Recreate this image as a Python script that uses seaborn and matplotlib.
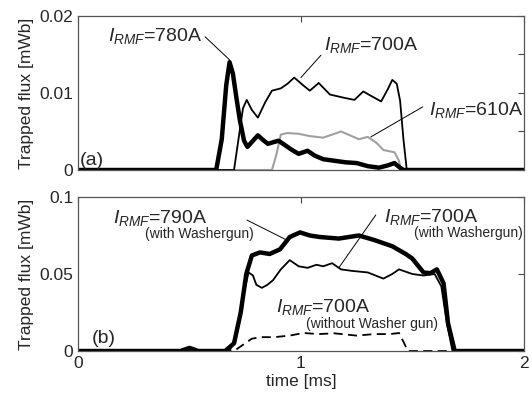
import numpy as np
import matplotlib
matplotlib.use('Agg')
import matplotlib.pyplot as plt
import seaborn as sns

# ─── Data: panel (a) ─────────────────────────────────────────────────────────
t_780 = [0, 0.62, 0.645, 0.665, 0.68, 0.695, 0.71, 0.726, 0.745, 0.76, 0.785,
         0.807, 0.83, 0.852, 0.875, 0.90, 0.93, 0.96, 0.99, 1.03, 1.06, 1.10,
         1.15, 1.20, 1.25, 1.30, 1.35, 1.39, 1.42, 1.44, 1.46, 2.0]
f_780 = [0, 0, 0.004, 0.011, 0.014, 0.0125, 0.0095, 0.0065, 0.0038, 0.003, 0.0038,
         0.0045, 0.0039, 0.0034, 0.0036, 0.0038, 0.0032, 0.0026, 0.0021, 0.0025, 0.0019, 0.0014,
         0.0012, 0.0010, 0.0009, 0.0005, 0.0003, 0.0006, 0.0009, 0.0004, 0, 0]

t_700a = [0, 0.70, 0.72, 0.74, 0.757, 0.78, 0.807, 0.84, 0.87, 0.91, 0.94, 0.97,
          1.01, 1.04, 1.08, 1.13, 1.19, 1.24, 1.28, 1.31, 1.36, 1.39, 1.41, 1.43,
          1.445, 1.46, 1.475, 2.0]
f_700a = [0, 0, 0.004, 0.008, 0.0091, 0.0078, 0.0068, 0.0088, 0.0103, 0.0106, 0.0112, 0.012,
          0.011, 0.0103, 0.0113, 0.0098, 0.0094, 0.0091, 0.0102, 0.0097, 0.0089, 0.0105, 0.0117, 0.0112,
          0.009, 0.004, 0, 0]

t_610 = [0, 0.87, 0.89, 0.91, 0.94, 0.99, 1.04, 1.10, 1.14, 1.18, 1.22, 1.26,
         1.30, 1.34, 1.37, 1.42, 1.44, 1.45, 2.0]
f_610 = [0, 0, 0.002, 0.0046, 0.0048, 0.0047, 0.0044, 0.0042, 0.0046, 0.005, 0.0045, 0.004,
         0.0043, 0.0035, 0.0026, 0.0023, 0.0012, 0, 0]

# ─── Data: panel (b) ─────────────────────────────────────────────────────────
t_790 = [0, 0.46, 0.50, 0.54, 0.66, 0.70, 0.73, 0.755, 0.78, 0.816, 0.86, 0.906,
         0.95, 0.996, 1.04, 1.085, 1.17, 1.26, 1.33, 1.41, 1.47, 1.50, 1.55, 1.58,
         1.61, 1.64, 1.66, 1.69, 2.0]
f_790 = [0, 0, 0.002, 0, 0, 0.005, 0.025, 0.05, 0.062, 0.064, 0.063, 0.066,
         0.074, 0.077, 0.075, 0.074, 0.073, 0.075, 0.072, 0.068, 0.063, 0.060, 0.051, 0.0505,
         0.053, 0.044, 0.018, 0, 0]

t_700w = [0, 0.68, 0.71, 0.74, 0.765, 0.785, 0.80, 0.825, 0.85, 0.875, 0.91, 0.95,
          0.99, 1.03, 1.07, 1.10, 1.14, 1.18, 1.23, 1.30, 1.37, 1.41, 1.44, 1.50,
          1.55, 1.60, 1.63, 1.655, 1.68, 2.0]
f_700w = [0, 0, 0.01, 0.035, 0.051, 0.049, 0.043, 0.041, 0.043, 0.046, 0.053, 0.059,
          0.055, 0.054, 0.056, 0.055, 0.057, 0.053, 0.052, 0.051, 0.047, 0.050, 0.053, 0.050,
          0.049, 0.050, 0.042, 0.018, 0, 0]

t_700n = [0, 0.70, 0.74, 0.78, 0.82, 0.88, 0.95, 1.01, 1.08, 1.15, 1.25, 1.33,
          1.40, 1.44, 1.46, 1.48, 1.70]
f_700n = [0, 0, 0.004, 0.008, 0.009, 0.009, 0.010, 0.0117, 0.011, 0.0115, 0.010, 0.011,
          0.011, 0.0117, 0.006, 0, 0]

# ─── Style ───────────────────────────────────────────────────────────────────
sns.set_style('white')
plt.rcParams['font.family'] = ['Liberation Sans', 'DejaVu Sans']
plt.rcParams['mathtext.fontset'] = 'custom'
plt.rcParams['mathtext.it'] = 'Liberation Sans:italic'
plt.rcParams['mathtext.rm'] = 'Liberation Sans'

fig = plt.figure(figsize=(5.32, 3.96), dpi=100)
ax_a = fig.add_axes([0.1466, 0.5707, 0.838, 0.389])
ax_b = fig.add_axes([0.1466, 0.1136, 0.838, 0.389])

# ─── Panel (a) ───────────────────────────────────────────────────────────────
sns.lineplot(x=t_610, y=f_610, ax=ax_a, color='#a0a0a0', lw=1.5)
sns.lineplot(x=t_700a, y=f_700a, ax=ax_a, color='black', lw=1.3)
sns.lineplot(x=t_780, y=f_780, ax=ax_a, color='black', lw=3.2)

ax_a.set_ylim(0, 0.02)
ax_a.set_yticks([0, 0.005, 0.01, 0.015, 0.02])
ax_a.set_yticklabels(['0', '', '0.01', '', '0.02'])

lab_kw = dict(fontsize=14, va='baseline')
sub_kw = dict(fontsize=10, va='baseline')
ax_a.text(0.135, 0.0167, r'$I_{RMF}$=780A', **lab_kw)
ax_a.plot([0.57, 0.68], [0.0173, 0.0143], color='black', lw=0.7)
ax_a.text(1.103, 0.0156, r'$I_{RMF}$=700A', **lab_kw)
ax_a.plot([1.09, 1.0], [0.0149, 0.012], color='black', lw=0.7)
ax_a.text(1.574, 0.0071, r'$I_{RMF}$=610A', **lab_kw)
ax_a.plot([1.547, 1.314], [0.0082, 0.0043], color='black', lw=0.7)
ax_a.text(0.009, 0.0007, '(a)', **lab_kw)

# ─── Panel (b) ───────────────────────────────────────────────────────────────
sns.lineplot(x=t_700n, y=f_700n, ax=ax_b, color='black', lw=1.3, linestyle=(0, (5, 3)))
sns.lineplot(x=t_700w, y=f_700w, ax=ax_b, color='black', lw=1.3)
sns.lineplot(x=t_790, y=f_790, ax=ax_b, color='black', lw=3.2)

ax_b.set_ylim(0, 0.1)
ax_b.set_yticks([0, 0.05, 0.1])
ax_b.set_yticklabels(['0', '0.05', '0.1'])

ax_b.text(0.157, 0.0831, r'$I_{RMF}$=790A', **lab_kw)
ax_b.text(0.30, 0.0734, '(with Washergun)', **sub_kw)
ax_b.plot([0.758, 0.937], [0.085, 0.072], color='black', lw=0.7)
ax_b.text(1.372, 0.0838, r'$I_{RMF}$=700A', **lab_kw)
ax_b.text(1.507, 0.074, '(with Washergun)', **sub_kw)
ax_b.plot([1.336, 1.17], [0.0883, 0.054], color='black', lw=0.7)
ax_b.text(0.888, 0.0253, r'$I_{RMF}$=700A', **lab_kw)
ax_b.text(1.022, 0.015, '(without Washer gun)', **sub_kw)
ax_b.text(0.063, 0.0052, '(b)', **lab_kw)

# ─── Common axes formatting ──────────────────────────────────────────────────
for ax in (ax_a, ax_b):
    ax.set_xlim(0, 2)
    ax.set_xticks([0, 1, 2])
    ax.tick_params(direction='in', top=True, right=True, labelsize=12.5,
                   length=4, width=0.8, color='#444444')
    for sp in ax.spines.values():
        sp.set_color('#555555')
        sp.set_linewidth(0.9)
    ax.set_ylabel('Trapped flux [mWb]', fontsize=12.5)

ax_a.set_xticklabels([])
ax_b.set_xticklabels(['0', '1', '2'])
ax_b.set_xlabel('time [ms]', fontsize=12.5, labelpad=2)
fig.align_ylabels([ax_a, ax_b])

plt.savefig('out.png', dpi=100)
plt.close()
